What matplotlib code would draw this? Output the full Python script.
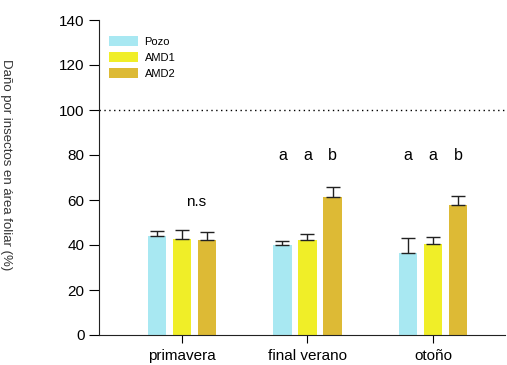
import matplotlib
matplotlib.use("Agg")
import matplotlib.pyplot as plt
import numpy as np

plt.rcParams['font.family'] = ['Liberation Sans', 'DejaVu Sans']

# season groups and treatments
seasons = ['primavera', 'final verano', 'otoño']
treatments = ['Pozo', 'AMD1', 'AMD2']
colors = ['#A8E8F2', '#F0EE28', '#DDBA35']

# mean values and upper error per treatment (order: primavera, final verano, otoño)
means = {
    'Pozo': [44.0, 40.0, 36.4],
    'AMD1': [42.7, 42.1, 40.4],
    'AMD2': [42.2, 61.3, 57.8],
}
errors = {
    'Pozo': [2.4, 1.6, 6.9],
    'AMD1': [3.8, 2.6, 3.3],
    'AMD2': [3.4, 4.3, 3.8],
}

# significance letters per group
letters = [None, ['a', 'a', 'b'], ['a', 'a', 'b']]
ns_label = 'n.s'

fig = plt.figure(figsize=(5.07, 3.65), dpi=100)
ax = fig.add_axes([99 / 507, 30 / 365, (505 - 99) / 507, 315 / 365])

x = np.arange(len(seasons))
width = 0.147
offset = 0.2

for i, t in enumerate(treatments):
    pos = x + (i - 1) * offset
    ax.bar(pos, means[t], width, color=colors[i], label=t, zorder=2)
    ax.errorbar(pos, means[t], yerr=[np.zeros(len(seasons)), errors[t]],
                fmt='none', ecolor='#222222', elinewidth=1, capsize=5,
                capthick=1, zorder=3)

for g, labs in enumerate(letters):
    if labs is None:
        continue
    for i, lab in enumerate(labs):
        ax.text(x[g] + (i - 1) * offset, 80, lab, ha='center', va='center',
                fontsize=11.5)
ax.text(x[0] + 0.11, 59, ns_label, ha='center', va='center', fontsize=11)

ax.axhline(100, color='black', linestyle=(0, (1, 2.5)), linewidth=1, zorder=1)

ax.set_xlim(-0.66, 2.573)
ax.set_ylim(0, 140)
ax.set_yticks(np.arange(0, 141, 20))
ax.set_xticks(x)
ax.set_xticklabels(seasons, fontsize=11)
ax.tick_params(axis='y', labelsize=11, length=7, direction='out')
ax.tick_params(axis='x', length=6, direction='out', pad=4)

ax.spines['top'].set_visible(False)
ax.spines['right'].set_visible(False)
ax.spines['left'].set_color('#222222')
ax.spines['bottom'].set_color('#222222')

fig.text(0.012, 0.55, 'Daño por insectos en área foliar (%)', rotation=270,
         ha='center', va='center', fontsize=9.5, color='#333333')

ax.legend(loc='upper left', bbox_to_anchor=(0.0, 0.98), frameon=False,
          fontsize=8, handlelength=2.6, handleheight=1.0, handletextpad=0.6,
          labelspacing=0.45)

fig.savefig('out.png', dpi=100)
